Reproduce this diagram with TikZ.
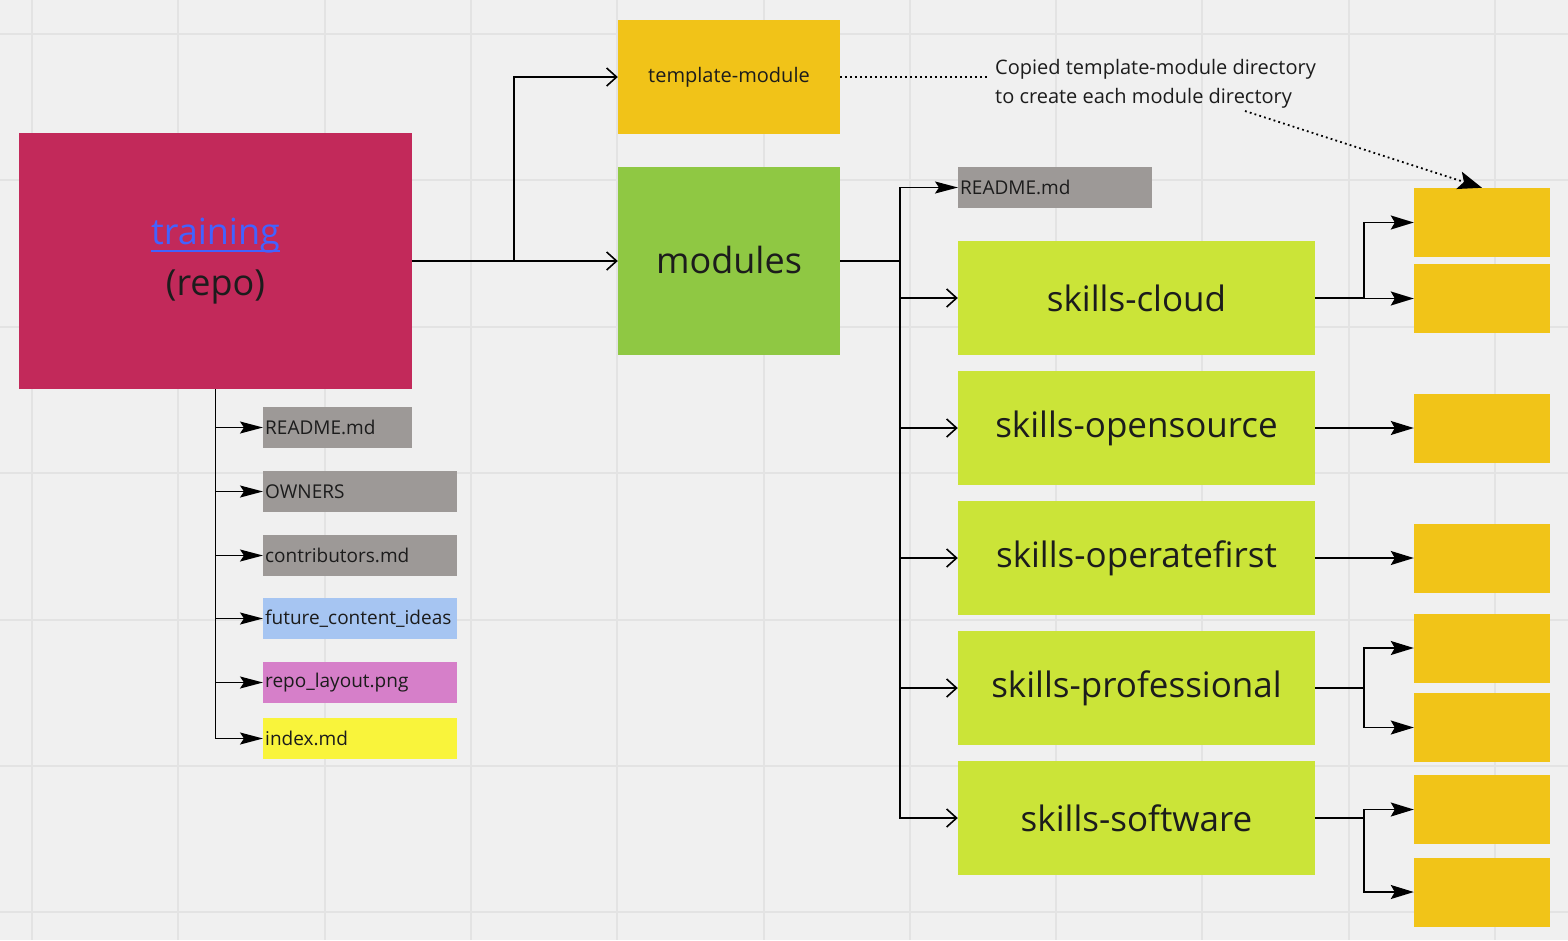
\documentclass[tikz,border=0pt]{standalone}
\usepackage{fontspec}
\setmainfont{Open Sans}
\usepackage{tikz}
\usetikzlibrary{arrows.meta}

\definecolor{canvas}{HTML}{F0F0F0}
\definecolor{gridln}{HTML}{E3E3E3}
\definecolor{repocol}{HTML}{C2295A}
\definecolor{linkblue}{HTML}{4262FF}
\definecolor{tmplcol}{HTML}{F1C318}
\definecolor{modcol}{HTML}{8FC843}
\definecolor{skillcol}{HTML}{CBE438}
\definecolor{filegray}{HTML}{9D9997}
\definecolor{fileblue}{HTML}{A6C5F2}
\definecolor{filepink}{HTML}{D67FC9}
\definecolor{fileyellow}{HTML}{F9F43B}
\definecolor{copycol}{HTML}{F1C418}
\definecolor{inkcol}{HTML}{1C1C1C}

\newcommand{\linktext}[1]{\setbox0\hbox{#1}\vtop{\copy0\kern-\dp0\kern6pt\hrule height 2pt}}

\begin{document}
\begin{tikzpicture}[x=1pt,y=-1pt]
	\tikzstyle{box}=[rectangle,inner sep=0pt,text=inkcol]
	\tikzstyle{repo}=[box,fill=repocol,minimum width=393pt,minimum height=256pt,align=center,font=\fontsize{36}{51}\selectfont]
	\tikzstyle{tmpl}=[box,fill=tmplcol,minimum width=222pt,minimum height=114pt,font=\fontsize{20}{24}\selectfont]
	\tikzstyle{mods}=[box,fill=modcol,minimum width=222pt,minimum height=188pt,font=\fontsize{36}{44}\selectfont]
	\tikzstyle{skill}=[box,fill=skillcol,minimum width=357pt,minimum height=114pt,font=\fontsize{35}{42}\selectfont]
	\tikzstyle{copy}=[box,fill=copycol,minimum width=136pt,minimum height=69pt]
	\tikzstyle{file}=[box,anchor=west,minimum height=41pt,inner xsep=2pt,align=left,font=\fontsize{19}{23}\selectfont]
	\tikzstyle{note}=[anchor=west,align=left,inner sep=0pt,text=inkcol,font=\fontsize{20}{29}\selectfont]
	\tikzstyle{openline}=[line width=1.6pt,-{Straight Barb[length=10pt,width=18pt]}]
	\tikzstyle{fileline}=[line width=1.6pt,-{Stealth[length=23pt,width=12pt,inset=4pt]}]
	\tikzstyle{copyline}=[line width=1.6pt,-{Stealth[length=23pt,width=14pt,inset=4pt]}]
	\tikzstyle{hint}=[line width=1.8pt,dash pattern=on 1.8pt off 3.2pt]
	\tikzstyle{hintarrow}=[hint,-{Stealth[length=24pt,width=18pt,inset=5pt]}]
	\useasboundingbox (0,0) rectangle (1568,940);
	\fill [canvas] (0,0) rectangle (1568,940);
	\foreach \gx in {32,178.3,...,1500} \draw [gridln,line width=2pt] (\gx,0) -- (\gx,940);
	\foreach \gy in {34,180.4,...,940} \draw [gridln,line width=2pt] (0,\gy) -- (1568,\gy);
	% repo and its top level
	\node (training)  at (215.5,261) [repo] {{\color{linkblue}\linktext{training}}\\(repo)};
	\node (template)  at (729,77)    [tmpl] {template-module};
	\node (modules)   at (729,261)   [mods] {\raisebox{3pt}{modules}};
	\node (readme)    at (263,427.5) [file,fill=filegray,text width=145pt]   {README.md};
	\node (owners)    at (263,491.5) [file,fill=filegray,text width=190pt]   {OWNERS};
	\node (contrib)   at (263,555.5) [file,fill=filegray,text width=190pt]   {contributors.md};
	\node (ideas)     at (263,618.5) [file,fill=fileblue,text width=190pt]   {future\_content\_ideas};
	\node (layout)    at (263,682.5) [file,fill=filepink,text width=190pt]   {repo\_layout.png};
	\node (index)     at (263,738.5) [file,fill=fileyellow,text width=190pt] {index.md};
	% modules directory
	\node (modreadme) at (958,187.5) [file,fill=filegray,text width=190pt] {README.md};
	\node (cloud)     at (1136.5,298) [skill] {skills-cloud};
	\node (opensrc)   at (1136.5,428) [skill] {skills-opensource};
	\node (operate)   at (1136.5,558) [skill] {skills-operatefirst};
	\node (profess)   at (1136.5,688) [skill] {skills-professional};
	\node (software)  at (1136.5,818) [skill] {skills-software};
	\node (cloudA)    at (1482,222.5) [copy] {};
	\node (cloudB)    at (1482,298.5) [copy] {};
	\node (opensrcA)  at (1482,428)   [copy] {};
	\node (operateA)  at (1482,558)   [copy] {};
	\node (professA)  at (1482,648)   [copy] {};
	\node (professB)  at (1482,727.5) [copy] {};
	\node (softwareA) at (1482,809.5) [copy] {};
	\node (softwareB) at (1482,892)   [copy] {};
	\node (note)      at (995,83.5)   [note] {Copied template-module directory\\to create each module directory};
	\coordinate (repobend) at (514,261);
	\coordinate (modbend)  at (900,261);
	\coordinate (notetail) at (1245,111);
	% connectors
	\draw [openline] (training.east) -- (modules.west);
	\draw [openline] (training.east) -- (repobend) |- (template.west);
	\foreach \f in {readme,owners,contrib,ideas,layout,index}
		\draw [fileline] (training.south) |- (\f.west);
	\draw [line width=1.6pt] (modules.east) -- (modbend);
	\draw [fileline] (modbend) |- (modreadme.west);
	\foreach \s in {cloud,opensrc,operate,profess,software}
		\draw [openline] (modbend) |- (\s.west);
	\foreach \s/\c in {cloud/cloudA,cloud/cloudB,opensrc/opensrcA,operate/operateA,profess/professA,profess/professB,software/softwareA,software/softwareB}
		\draw [copyline] (\s.east) -- ++(49,0) |- (\c.west);
	\draw [hint,shorten >=6pt] (template.east) -- (template.east -| note.west);
	\draw [hintarrow] (notetail) -- (cloudA.north);
\end{tikzpicture}
\end{document}
